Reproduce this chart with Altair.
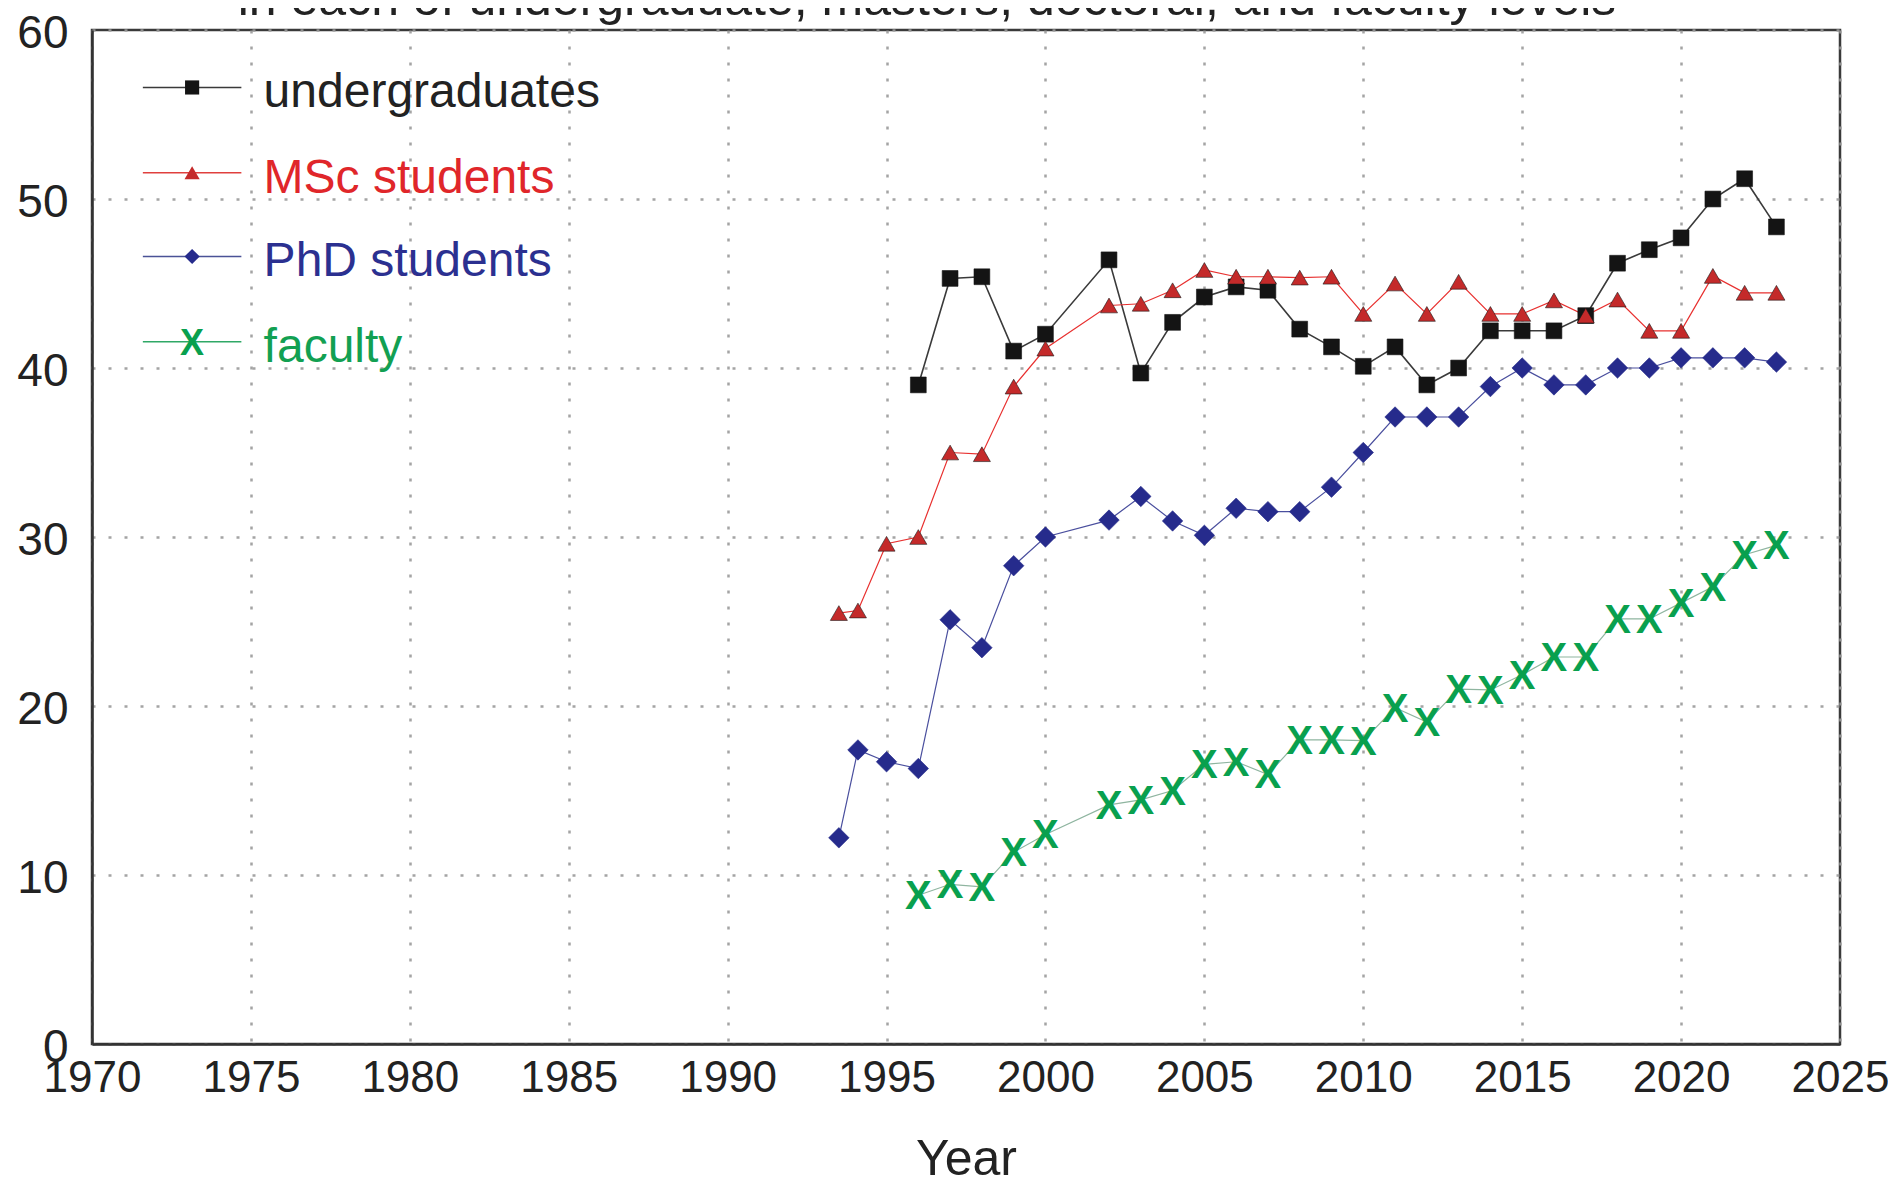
import altair as alt
import pandas as pd

TITLE_TEXT = "in each of undergraduate, masters, doctoral, and faculty levels"
SERIES = ["undergraduates", "MSc students", "PhD students", "faculty"]

UG_YEARS = [1996, 1997, 1998, 1999, 2000, 2002, 2003, 2004, 2005, 2006, 2007, 2008, 2009,
            2010, 2011, 2012, 2013, 2014, 2015, 2016, 2017, 2018, 2019, 2020, 2021, 2022, 2023]
UG_VALUES = [39.0, 45.3, 45.4, 41.0, 42.0, 46.4, 39.7, 42.7, 44.2, 44.8, 44.6, 42.3, 41.25,
             40.1, 41.25, 39.0, 40.0, 42.2, 42.2, 42.2, 43.1, 46.2, 47.0, 47.7, 50.0, 51.2, 48.35]

GRAD_YEARS = [1993.5, 1994.1, 1995, 1996, 1997, 1998, 1999, 2000, 2002, 2003, 2004, 2005, 2006,
              2007, 2008, 2009, 2010, 2011, 2012, 2013, 2014, 2015, 2016, 2017, 2018, 2019,
              2020, 2021, 2022, 2023]
MSC_VALUES = [25.5, 25.65, 29.6, 30.0, 35.0, 34.9, 38.9, 41.15, 43.7, 43.8, 44.6, 45.8, 45.4,
              45.4, 45.35, 45.4, 43.2, 45.0, 43.2, 45.1, 43.2, 43.2, 44.0, 43.1, 44.05, 42.2,
              42.2, 45.45, 44.45, 44.45]
PHD_VALUES = [12.2, 17.4, 16.7, 16.3, 25.1, 23.45, 28.3, 30.0, 31.0, 32.4, 30.95, 30.1, 31.7,
              31.5, 31.5, 32.95, 35.0, 37.1, 37.1, 37.1, 38.9, 40.0, 39.0, 39.0, 40.0, 40.0,
              40.6, 40.6, 40.6, 40.35]

FAC_YEARS = [1996, 1997, 1998, 1999, 2000, 2002, 2003, 2004, 2005, 2006, 2007, 2008, 2009,
             2010, 2011, 2012, 2013, 2014, 2015, 2016, 2017, 2018, 2019, 2020, 2021, 2022, 2023]
FAC_VALUES = [8.8, 9.45, 9.3, 11.35, 12.4, 14.15, 14.45, 15.0, 16.55, 16.7, 15.95, 18.0, 18.0,
              17.95, 19.9, 19.05, 21.0, 20.95, 21.85, 22.9, 22.9, 25.15, 25.15, 26.1, 27.05,
              28.95, 29.5]

X_TICKS = [1970, 1975, 1980, 1985, 1990, 1995, 2000, 2005, 2010, 2015, 2020, 2025]
Y_TICKS = [0, 10, 20, 30, 40, 50, 60]

# styles
LINE_COLORS = ["#3a3a3a", "#e8302f", "#4a4f9e", "#8fb5a0"]
LINE_WIDTHS = [1.6, 1.2, 1.2, 1.2]
MARK_COLORS = ["#141414", "#c42a2a", "#262b8c", "#09a04e"]
LABEL_COLORS = ["#222222", "#e0262a", "#2b3090", "#12a052"]
LEGEND_LINE_COLORS = ["#3a3a3a", "#e0403e", "#4a5296", "#2fa866"]
SHAPES = ["square", "triangle-up", "diamond", None]
SIZES = [250, 290, 420, None]
LEGEND_SIZES = [200, 230, 230, None]

# legend layout in data units
LEGEND_Y = [56.6, 51.55, 46.6, 41.55]
LEGEND_X0, LEGEND_X1, LEGEND_MX, LEGEND_TX = 1971.6, 1974.7, 1973.15, 1975.4

FONT = "Liberation Sans, Arial, sans-serif"

frames = [
    pd.DataFrame({"year": UG_YEARS, "value": UG_VALUES, "series": SERIES[0]}),
    pd.DataFrame({"year": GRAD_YEARS, "value": MSC_VALUES, "series": SERIES[1]}),
    pd.DataFrame({"year": GRAD_YEARS, "value": PHD_VALUES, "series": SERIES[2]}),
    pd.DataFrame({"year": FAC_YEARS, "value": FAC_VALUES, "series": SERIES[3]}),
]
df = pd.concat(frames, ignore_index=True)

legend_df = pd.DataFrame({
    "series": SERIES,
    "ly": LEGEND_Y,
    "x0": [LEGEND_X0] * 4,
    "x1": [LEGEND_X1] * 4,
    "mx": [LEGEND_MX] * 4,
    "tx": [LEGEND_TX] * 4,
})

XS = alt.Scale(domain=[1970, 2025], nice=False, zero=False)
YS = alt.Scale(domain=[0, 60], nice=False)
XAXIS = alt.Axis(values=X_TICKS, format="d", title="Year", ticks=False, labelFlush=False,
                 labelOverlap=False, labelPadding=12, labelFontSize=44,
                 titleY=130, titleBaseline="alphabetic")
YAXIS = alt.Axis(values=Y_TICKS, format="d", title="", ticks=False, labelPadding=24,
                 labelOffset=3, labelOverlap=False, labelFontSize=46)


def ex(field):
    return alt.X(f"{field}:Q", scale=XS, axis=XAXIS)


def ey(field):
    return alt.Y(f"{field}:Q", scale=YS, axis=YAXIS)


layers = []
base = alt.Chart(df)
for i, s in enumerate(SERIES):
    sub = base.transform_filter(alt.datum.series == s)
    layers.append(sub.mark_line(color=LINE_COLORS[i], strokeWidth=LINE_WIDTHS[i])
                  .encode(x=ex("year"), y=ey("value")))
for i, s in enumerate(SERIES):
    sub = base.transform_filter(alt.datum.series == s)
    if SHAPES[i]:
        layers.append(sub.mark_point(shape=SHAPES[i], size=SIZES[i], filled=True,
                                     color=MARK_COLORS[i], opacity=1,
                                     stroke="#1a1a1a" if i == 1 else MARK_COLORS[i],
                                     strokeWidth=0.6)
                      .encode(x=ex("year"), y=ey("value")))
    else:
        layers.append(sub.mark_text(text="X", font="Liberation Sans", fontWeight="bold",
                                    fontSize=40, color=MARK_COLORS[i], baseline="alphabetic",
                                    dy=14)
                      .encode(x=ex("year"), y=ey("value")))

lbase = alt.Chart(legend_df)
for i, s in enumerate(SERIES):
    row = lbase.transform_filter(alt.datum.series == s)
    layers.append(row.mark_rule(color=LEGEND_LINE_COLORS[i], strokeWidth=1.6)
                  .encode(x=ex("x0"), x2="x1:Q", y=ey("ly")))
    if SHAPES[i]:
        layers.append(row.mark_point(shape=SHAPES[i], size=LEGEND_SIZES[i], filled=True,
                                     color=MARK_COLORS[i], opacity=1)
                      .encode(x=ex("mx"), y=ey("ly")))
    else:
        layers.append(row.mark_text(text="X", font="Liberation Sans", fontWeight="bold",
                                    fontSize=36, color=MARK_COLORS[i], baseline="alphabetic",
                                    dy=13)
                      .encode(x=ex("mx"), y=ey("ly")))
    layers.append(row.mark_text(font=FONT, fontSize=48, color=LABEL_COLORS[i], align="left",
                                baseline="alphabetic", dy=20)
                  .encode(x=ex("tx"), y=ey("ly"), text="series:N"))

title_layer = alt.Chart(pd.DataFrame({"t": [TITLE_TEXT]})).mark_text(
    font=FONT, fontSize=50, color="#222222", align="center", baseline="alphabetic"
).encode(x=alt.value(835), y=alt.value(-15), text="t:N")
layers.append(title_layer)

chart = alt.layer(*layers).properties(
    width=1748,
    height=1014,
    padding={"left": 84, "top": 22, "right": 48, "bottom": 140},
    autosize=alt.AutoSizeParams(type="none"),
    background="white",
).configure_view(
    stroke="#3a3a3a", strokeWidth=2.5
).configure_axis(
    labelFont=FONT, labelColor="#222222",
    titleFont=FONT, titleFontSize=50, titleColor="#222222", titleFontWeight="normal",
    domainColor="#333333", domainWidth=2.5,
    gridColor="#9a9a9a", gridDash=[3, 13], gridWidth=2.5, gridOpacity=0.9,
)

chart.save("out.html", embed_options={"renderer": "svg", "actions": False})
